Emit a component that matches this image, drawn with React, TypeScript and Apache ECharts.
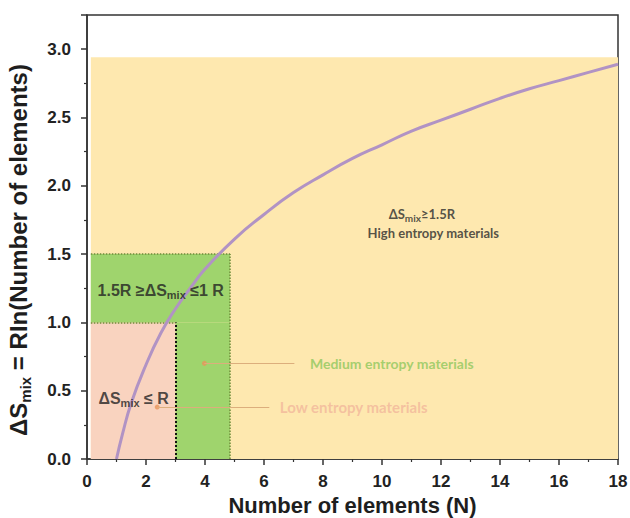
import React, { useEffect, useRef } from "react";
import * as echarts from "echarts";

// Curve: ΔS_mix vs number of elements
const N_VALUES = [1, 1.2, 1.5, 2, 2.5, 3, 3.5, 4, 5, 6, 7, 8, 9, 10, 11, 12, 13, 14, 15, 16, 17, 18];
const S_VALUES = [0, 0.18, 0.41, 0.69, 0.92, 1.1, 1.25, 1.39, 1.61, 1.79, 1.95, 2.08, 2.2, 2.3, 2.4, 2.48, 2.56, 2.64, 2.71, 2.77, 2.83, 2.89];

// Shaded regions [[x1, y1], [x2, y2]]
const HIGH_REGION = [[0.13, 0], [18, 2.94]];
const MEDIUM_REGIONS = [
  [[0.13, 1.0], [4.85, 1.5]],
  [[3, 0], [4.85, 1.0]],
];
const LOW_REGION = [[0.13, 0], [3, 1.0]];

// Dotted boundary segments
const DOTTED_OLIVE = [
  [[0.13, 1.5], [4.85, 1.5]],
  [[0.13, 1.0], [3, 1.0]],
  [[4.85, 0], [4.85, 1.5]],
];
const DOTTED_BLACK = [[[3, 0], [3, 1.0]]];

// Leader dots and lines
const DOTS = [[3.98, 0.7], [2.38, 0.38]];
const LEADERS = [
  [[3.98, 0.7], [7.03, 0.7]],
  [[2.38, 0.38], [6.18, 0.38]],
];

// Annotations
const CENTER_LABELS = [
  { pos: [2.5, 1.23], text: "{b|1.5R ≥ΔS}{s|mix}{b| ≤1 R}" },
  { pos: [1.58, 0.44], text: "{b|ΔS}{s|mix}{b| ≤ R}" },
  { pos: [11.35, 1.79], text: "{h|ΔS}{hs|mix}{h|≥1.5R}" },
  { pos: [11.74, 1.655], text: "{h|High entropy materials}" },
];
const SIDE_LABELS = [
  { pos: [7.54, 0.697], text: "{m|Medium entropy materials}" },
  { pos: [6.52, 0.378], text: "{l|Low entropy materials}" },
];

const X_TICKS = { min: 0, max: 18, interval: 2 };
const Y_TICKS = { min: 0, max: 3.25, interval: 0.5 };

const AXIS_FONT = "Liberation Sans, Arial, Helvetica, sans-serif";
const NOTE_FONT = "Lato, Open Sans, sans-serif";

export default function App() {
  const ref = useRef<HTMLDivElement>(null);
  useEffect(() => {
    if (!ref.current) return;
    const chart = echarts.init(ref.current, undefined, { renderer: "svg" });
    const rich = {
      b: { fontFamily: AXIS_FONT, fontWeight: "bold", fontSize: 16, color: "#222", lineHeight: 20 },
      s: { fontFamily: AXIS_FONT, fontWeight: "bold", fontSize: 11, color: "#222", lineHeight: 12, padding: [13, 0, 0, 0], verticalAlign: "bottom" },
      h: { fontFamily: NOTE_FONT, fontWeight: "bold", fontSize: 13, color: "#2a2a2a", lineHeight: 18 },
      hs: { fontFamily: NOTE_FONT, fontWeight: "bold", fontSize: 10, color: "#2a2a2a", lineHeight: 10, padding: [12, 0, 0, 0], verticalAlign: "bottom" },
      m: { fontFamily: NOTE_FONT, fontWeight: "bold", fontSize: 14, color: "#8ec75c" },
      l: { fontFamily: NOTE_FONT, fontWeight: "bold", fontSize: 15, color: "#f2b79b" },
    };
    const seg = (arr: number[][][]) => arr.map((s) => [{ coord: s[0] }, { coord: s[1] }]);
    const area = (r: number[][], color: string) => [
      { xAxis: r[0][0], yAxis: r[0][1], itemStyle: { color } },
      { xAxis: r[1][0], yAxis: r[1][1] },
    ];
    chart.setOption({
      animation: false,
      grid: {
        left: 87,
        right: 12,
        top: 15,
        bottom: 59,
        outerBoundsMode: "none",
        containLabel: false,
        show: true,
        borderColor: "#333",
        borderWidth: 1.5,
        backgroundColor: "transparent",
      },
      xAxis: {
        type: "value",
        min: X_TICKS.min,
        max: X_TICKS.max,
        interval: X_TICKS.interval,
        name: "Number of elements (N)",
        nameLocation: "middle",
        nameGap: 34,
        nameTextStyle: { fontFamily: AXIS_FONT, fontWeight: "bold", fontSize: 22, lineHeight: 22, color: "#1e1e1e" },
        axisLine: { show: true, lineStyle: { color: "#333", width: 1.5 } },
        axisTick: { show: true, inside: false, length: 6, lineStyle: { color: "#333", width: 1.5 } },
        minorTick: { show: true, splitNumber: 2, length: 3, lineStyle: { color: "#333", width: 1.2 } },
        splitLine: { show: false },
        axisLabel: { fontFamily: AXIS_FONT, fontWeight: "bold", fontSize: 17, color: "#222", margin: 14 },
      },
      yAxis: {
        type: "value",
        min: Y_TICKS.min,
        max: Y_TICKS.max,
        interval: Y_TICKS.interval,
        name: "{b|ΔS}{s|mix}{b| = RIn(Number of elements)}",
        nameLocation: "middle",
        nameRotate: 90,
        nameGap: 54,
        nameTextStyle: {
          padding: [0, 26, 0, 0],
          rich: {
            b: { fontFamily: AXIS_FONT, fontWeight: "bold", fontSize: 24, color: "#1e1e1e", lineHeight: 30 },
            s: { fontFamily: AXIS_FONT, fontWeight: "bold", fontSize: 15, color: "#1e1e1e", lineHeight: 15, padding: [17, 0, 0, 0], verticalAlign: "bottom" },
          },
        },
        axisLine: { show: true, lineStyle: { color: "#333", width: 1.5 } },
        axisTick: { show: true, inside: false, length: 6, lineStyle: { color: "#333", width: 1.5 } },
        minorTick: { show: true, splitNumber: 2, length: 3, lineStyle: { color: "#333", width: 1.2 } },
        splitLine: { show: false },
        axisLabel: {
          fontFamily: AXIS_FONT,
          fontWeight: "bold",
          fontSize: 17,
          color: "#222",
          margin: 16,
          showMaxLabel: false,
          formatter: (v: number) => v.toFixed(1),
        },
      },
      series: [
        {
          type: "line",
          name: "regions",
          data: [],
          silent: true,
          markArea: {
            silent: true,
            data: [
              area(HIGH_REGION, "#fee8af"),
              area(LOW_REGION, "#f9d3bf"),
              ...MEDIUM_REGIONS.map((r) => area(r, "#9fd46d")),
            ],
          },
          markLine: {
            silent: true,
            symbol: "none",
            label: { show: false },
            lineStyle: { color: "#6f8a3a", type: "dotted", width: 1.5 },
            data: seg(DOTTED_OLIVE),
          },
        },
        {
          type: "line",
          name: "black boundary",
          data: [],
          silent: true,
          markLine: {
            silent: true,
            symbol: "none",
            label: { show: false },
            lineStyle: { color: "#111", type: "dotted", width: 2 },
            data: seg(DOTTED_BLACK),
          },
        },
        {
          type: "line",
          name: "ΔS_mix",
          data: N_VALUES.map((n, i) => [n, S_VALUES[i]]),
          smooth: true,
          symbol: "none",
          z: 5,
          lineStyle: { color: "#b193c4", width: 3 },
        },
        {
          type: "scatter",
          name: "dots",
          data: DOTS,
          symbolSize: 5,
          z: 4,
          itemStyle: { color: "#e8935a" },
          markLine: {
            silent: true,
            symbol: "none",
            label: { show: false },
            lineStyle: { color: "#dcae7c", type: "solid", width: 1 },
            data: seg(LEADERS),
          },
        },
        {
          type: "scatter",
          name: "notes-center",
          symbolSize: 1,
          z: 6,
          itemStyle: { color: "rgba(0,0,0,0)" },
          label: { show: true, position: "inside", rich },
          data: CENTER_LABELS.map((a) => ({ value: a.pos, label: { formatter: a.text } })),
        },
        {
          type: "scatter",
          name: "notes-side",
          symbolSize: 1,
          z: 6,
          itemStyle: { color: "rgba(0,0,0,0)" },
          label: { show: true, position: "right", distance: 0, rich },
          data: SIDE_LABELS.map((a) => ({ value: a.pos, label: { formatter: a.text } })),
        },
      ],
    });
    return () => chart.dispose();
  }, []);
  return <div ref={ref} style={{ width: 630, height: 518, position: "absolute", left: 0, top: 0 }} />;
}
